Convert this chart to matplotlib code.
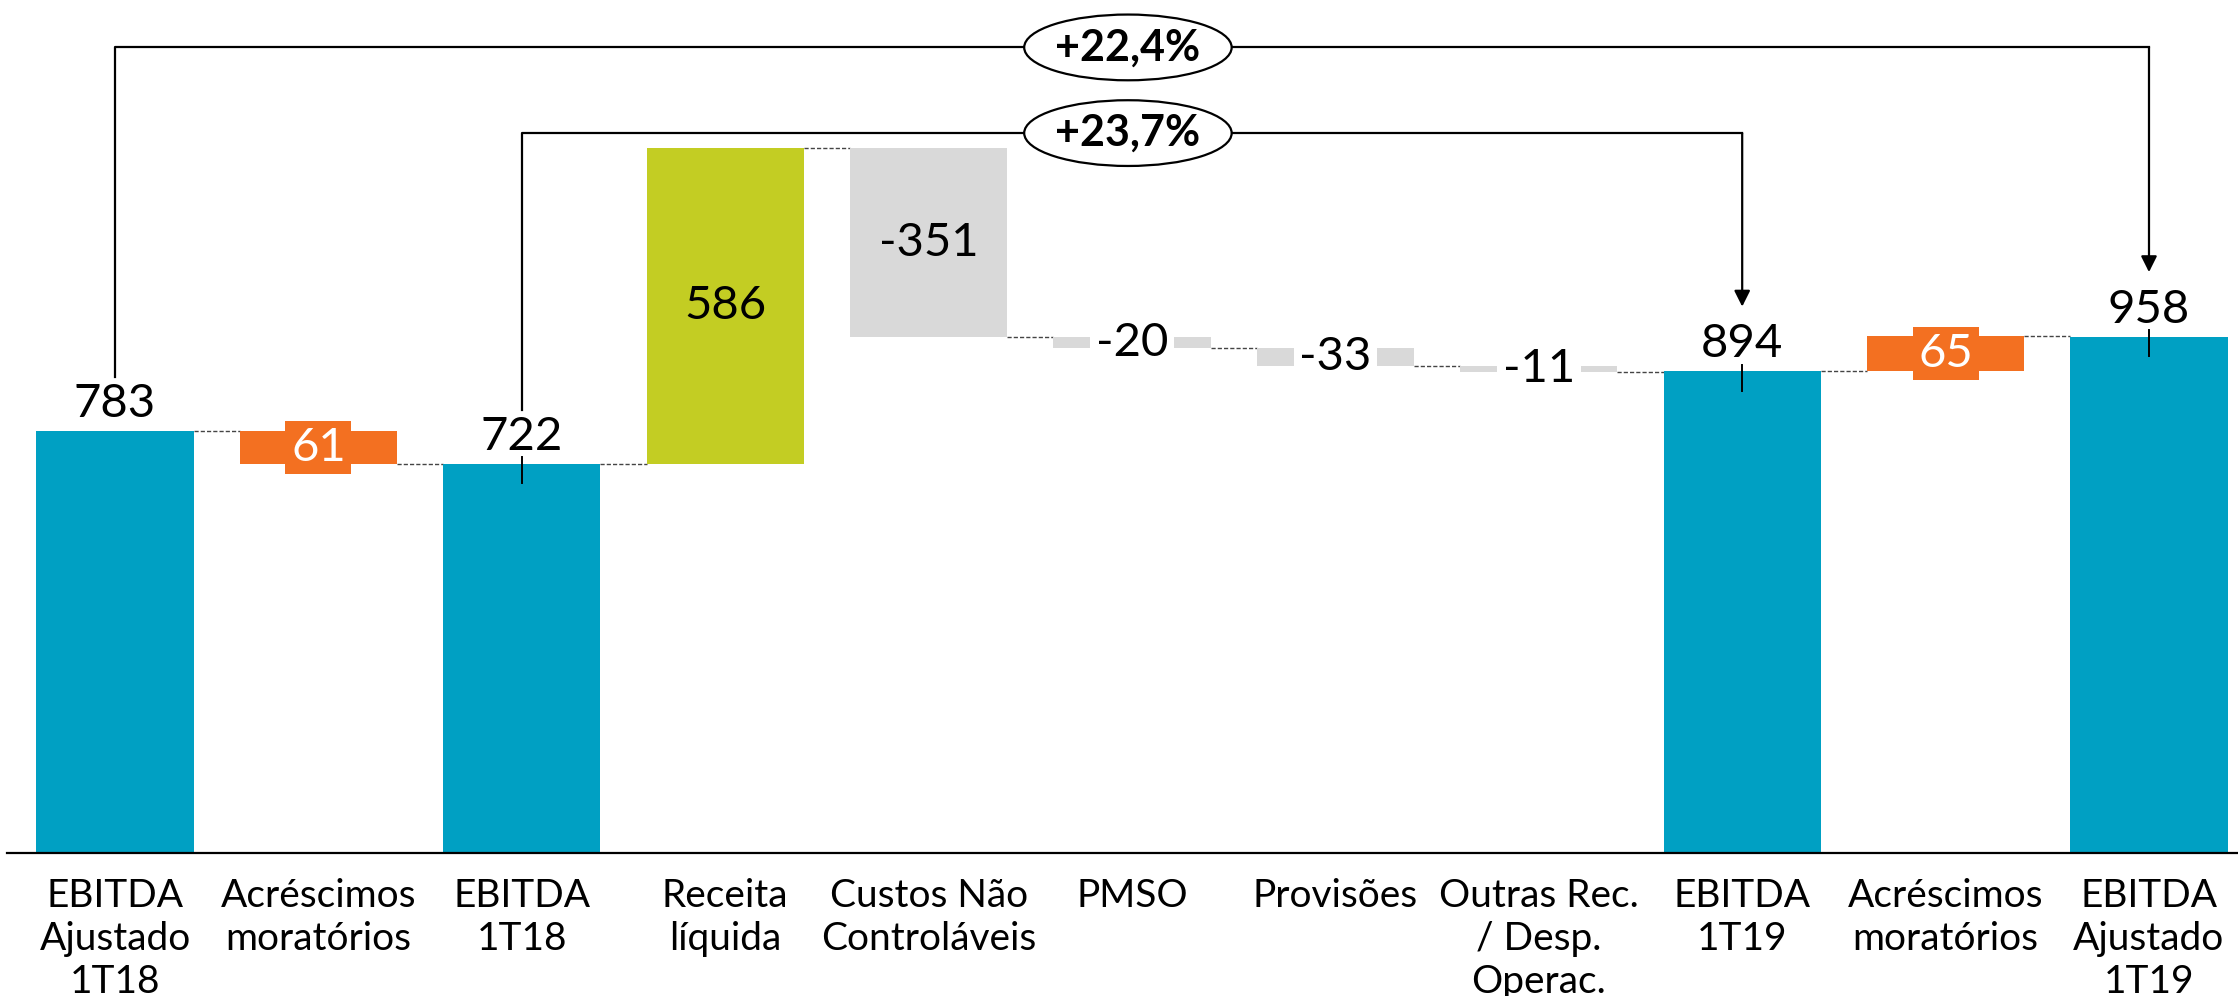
import numpy as np
import matplotlib.pyplot as plt
from matplotlib.patches import Ellipse

plt.rcParams.update({
    "font.family": ["Lato", "DejaVu Sans"],
    "axes.linewidth": 0.8,
})

# data
categories = [
    "EBITDA\nAjustado\n1T18", "Acréscimos\nmoratórios", "EBITDA\n1T18",
    "Receita\nlíquida", "Custos Não\nControláveis", "PMSO", "Provisões",
    "Outras Rec.\n/ Desp.\nOperac.", "EBITDA\n1T19", "Acréscimos\nmoratórios",
    "EBITDA\nAjustado\n1T19",
]
values = [783, -61, 722, 586, -351, -20, -33, -11, 894, 65, 958]
is_total = [True, False, True, False, False, False, False, False, True, False, True]
value_labels = ["783", "61", "722", "586", "-351", "-20", "-33", "-11", "894", "65", "958"]

growth_labels = ["+22,4%", "+23,7%"]
growth_from = [0, 2]
growth_to = [10, 8]

# styles
TEAL = "#00a0c3"
ORANGE = "#f37021"
GREEN = "#c3cd23"
GREY = "#d9d9d9"
colors = [TEAL, ORANGE, TEAL, GREEN, GREY, GREY, GREY, GREY, TEAL, ORANGE, TEAL]

fig = plt.figure(figsize=(11.19, 4.98), dpi=200)
ax = fig.add_axes([7 / 2238, 143 / 996, 1 - 7 / 2238, 853 / 996])
ax.set_xlim(-0.531, 10.4376)
ax.set_ylim(0, 1583)

w = 0.772
x = np.arange(len(values))

# waterfall geometry
bottoms, heights, levels = [], [], []
running = 0
for v, tot in zip(values, is_total):
    if tot:
        bottoms.append(0)
        heights.append(v)
        running = v
    else:
        bottoms.append(running + min(0, v))
        heights.append(abs(v))
        running += v
    levels.append(running)

ax.bar(x, heights, bottom=bottoms, width=w, color=colors, zorder=2)

# dashed connectors
for i in range(len(values) - 1):
    ax.plot([x[i] + w / 2, x[i + 1] - w / 2], [levels[i], levels[i]],
            ls=(0, (3, 1.5)), color="#444444", lw=0.5, zorder=1)

# value labels
for i, (v, lab) in enumerate(zip(values, value_labels)):
    mid = bottoms[i] + heights[i] / 2
    if is_total[i]:
        ax.annotate(lab, (x[i], heights[i]), xytext=(0, 5), textcoords="offset points",
                    ha="center", va="baseline", fontsize=17, zorder=5)
    elif colors[i] == ORANGE:
        ax.text(x[i], mid, lab, ha="center", va="center", fontsize=17, color="white",
                bbox=dict(boxstyle="square,pad=0.12", fc=ORANGE, ec="none"), zorder=5)
    elif abs(v) < 100:
        ax.text(x[i], mid, lab, ha="center", va="center", fontsize=17, color="black",
                bbox=dict(boxstyle="square,pad=0.12", fc="white", ec="none"), zorder=5)
    else:
        ax.text(x[i], mid, lab, ha="center", va="center", fontsize=17, color="black", zorder=5)

# small ticks on total bars that receive/send growth brackets (except first)
for i in [2, 8, 10]:
    ax.plot([x[i], x[i]], [heights[i] + 12, heights[i] - 36], color="black", lw=0.7, zorder=4)

# growth brackets
bracket_y = [1495, 1336]
for lab, a, b, yl in zip(growth_labels, growth_from, growth_to, bracket_y):
    start = values[a] + 100
    tip = values[b] + 120
    ax.plot([x[a], x[a], x[b]], [start, yl, yl], color="black", lw=0.8, zorder=3)
    ax.annotate("", xy=(x[b], tip), xytext=(x[b], yl),
                arrowprops=dict(arrowstyle="-|>", color="black", lw=0.8,
                                mutation_scale=12, shrinkA=0, shrinkB=0), zorder=3)
    ax.add_patch(Ellipse((4.98, yl), 1.02, 122, fc="white", ec="black", lw=0.8, zorder=4))
    ax.text(4.98, yl, lab, ha="center", va="center", fontsize=15.5, fontweight="bold", zorder=5)

for s in ["top", "right", "left"]:
    ax.spines[s].set_visible(False)
ax.set_yticks([])
ax.set_xticks(x)
ax.set_xticklabels(categories, fontsize=14, linespacing=1.24)
ax.tick_params(axis="x", length=0, pad=9)

fig.savefig("out.png", dpi=200)
